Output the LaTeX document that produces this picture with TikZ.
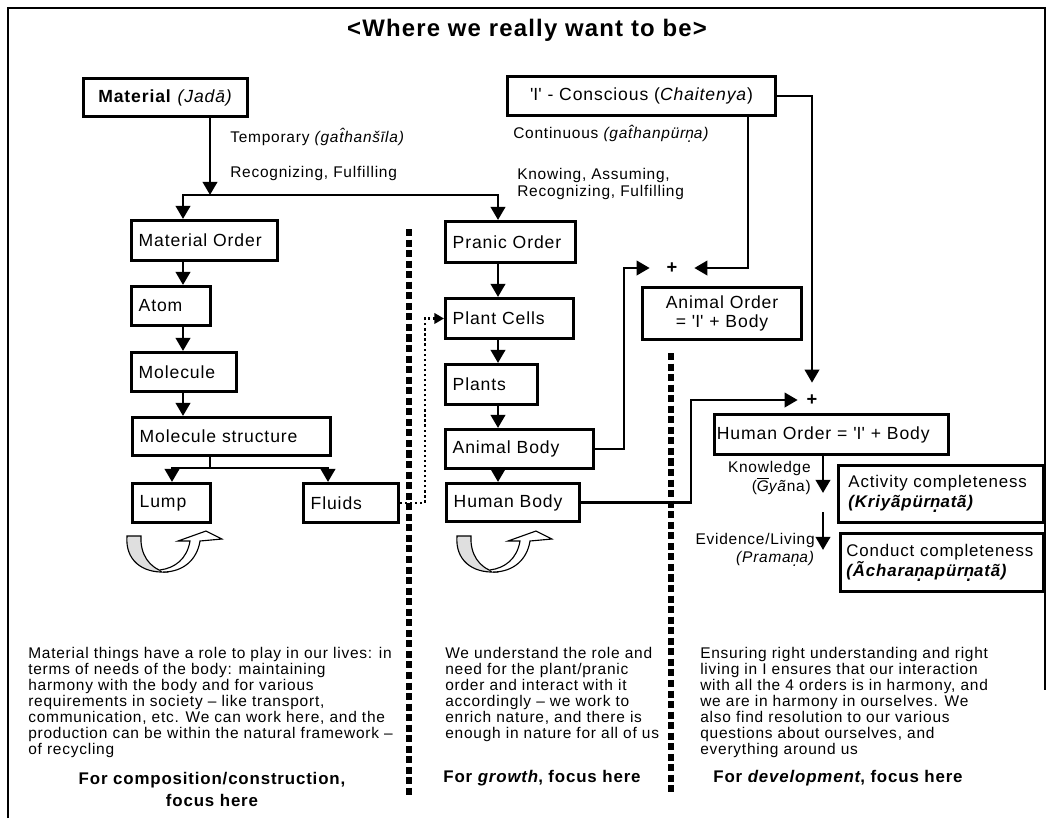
\documentclass[tikz,border=0pt]{standalone}
\usepackage{fontspec}
\setmainfont{Liberation Sans}[LetterSpace=5]
\usepackage{tikz}
\usetikzlibrary{arrows.meta, positioning, calc}

\newcommand{\ndot}[1]{\oalign{#1\crcr\hidewidth.\hidewidth}}
\newcommand{\qI}{\textquotesingle I\textquotesingle}

\begin{document}
\begin{tikzpicture}[
	x=0.025cm, y=-0.025cm,
	font=\fontsize{12.5}{14}\selectfont,
	box/.style={
		draw,
		rectangle,
		line width=2.1pt,
		anchor=north west,
		align=left,
		inner xsep=0.18cm,
		inner ysep=2pt
	},
	cbox/.style={box, align=center},
	lbl/.style={font=\fontsize{11}{12.5}\selectfont, inner sep=0pt},
	para/.style={font=\fontsize{11}{11.4}\selectfont, align=left, anchor=north west, inner sep=0pt},
	foot/.style={font=\bfseries\fontsize{12}{15.6}\selectfont, align=center, inner sep=0pt},
	plus/.style={inner sep=0pt, font=\bfseries\fontsize{13}{15}\selectfont},
	line/.style={line width=2.1pt},
	arrow/.style={line, -{Triangle[length=0.33cm, width=0.36cm]}},
	dotarrow/.style={line width=1.6pt, dotted, -{Triangle[length=0.24cm, width=0.26cm]}},
	sep/.style={line width=4pt, dash pattern=on 5pt off 2.5pt},
	recycle/.pic={
		\draw[line width=0.8pt, fill=gray!25] (0,4) .. controls (-2,28) and (15,41) .. (38,40)
			.. controls (22,36) and (13,22) .. (14,4) -- cycle;
		\draw[line width=0.8pt, fill=white] (36,40) .. controls (56,40) and (70,28) .. (73,9)
			-- (95,7) -- (79,-1) -- (51,9) -- (63,9) .. controls (60,27) and (48,36) .. (33,38);
	}
	]
	\useasboundingbox (0,0) rectangle (1052,818);
	
	% Marco y titulo
	\draw[line width=1.4pt] (8,818) -- (8,8) -- (1045,8) -- (1045,690);
	\node[font=\bfseries\fontsize{17}{19}\selectfont] (title) at (527,30) {<Where we really want to be>};
	
	% Fuentes
	\node[cbox, text width=3.74cm, minimum height=0.95cm] (mat) at (82,77) {\textbf{Material} \textit{(Jadā)}};
	\node[cbox, text width=6.34cm, minimum height=0.975cm] (con) at (506,75) {\qI{} - Conscious (\textit{Chaitenya})};
	
	\node[lbl, anchor=west] (temp) at (230,137) {Temporary \textit{(ga\^{t}hanšīla)}};
	\node[lbl, anchor=west] (recog) at (230,173) {Recognizing, Fulfilling};
	\node[lbl, anchor=west] (cont) at (513,134) {Continuous \textit{(ga\^{t}hanpür\ndot{n}a)}};
	\node[lbl, anchor=west, align=left] (knowing) at (517,184) {Knowing, Assuming,\\Recognizing, Fulfilling};
	
	% Columna material
	\node[box, text width=3.29cm, minimum height=1.0cm] (matord) at (130,219) {Material Order};
	\node[box, text width=1.615cm, minimum height=0.975cm] (atom) at (130,285) {Atom};
	\node[box, text width=2.265cm, minimum height=0.975cm] (molec) at (130,351) {Molecule};
	\node[box, text width=4.59cm, minimum height=0.95cm] (molstr) at (131,416) {Molecule structure};
	\node[box, text width=1.59cm, minimum height=0.975cm] (lump) at (131,482) {Lump};
	\node[box, text width=2.015cm, minimum height=0.975cm] (fluids) at (302,482) {Fluids};
	
	% Columna pranica
	\node[box, text width=2.89cm, minimum height=1.025cm] (pranic) at (444,220) {Pranic Order};
	\node[box, text width=2.84cm, minimum height=1.0cm] (pcells) at (444,297) {Plant Cells};
	\node[box, text width=1.94cm, minimum height=1.0cm] (plants) at (444,363) {Plants};
	\node[box, text width=3.34cm, minimum height=0.975cm] (abody) at (444,428) {Animal Body};
	\node[box, text width=2.965cm, minimum height=0.95cm] (hbody) at (445,482) {Human Body};
	
	% Columna animal / humana
	\node[plus, minimum width=1.1cm, minimum height=0.5cm] (plusA) at (672,268) {+};
	\node[cbox, text width=3.615cm, minimum height=1.3cm] (animord) at (641,286) {Animal Order\\= \qI{} + Body};
	\node[plus, minimum width=0.7cm, minimum height=0.85cm] (plusH) at (812,400) {+};
	\node[box, inner xsep=0.06cm, text width=5.73cm, minimum height=1.0cm] (humord) at (713,413) {Human Order = \qI{} + Body};
	\node[box, font=\fontsize{12}{14.5}\selectfont, inner xsep=0.25cm, text width=4.625cm, minimum height=1.425cm] (activ) at (837,464)
		{Activity completeness\\\textbf{\textit{(Kriyãpür\ndot{n}atã)}}};
	\node[box, font=\fontsize{12}{14.5}\selectfont, inner xsep=0.15cm, text width=4.775cm, minimum height=1.45cm] (conduct) at (839,532)
		{Conduct completeness\\\textbf{\textit{(Ãchara\ndot{n}apür\ndot{n}atã)}}};
	\node[lbl, anchor=east, align=right, font=\fontsize{11}{13}\selectfont] (gyana) at (811,478)
		{Knowledge\\($\overline{\mbox{\itshape G}}$\textit{yã}na)};
	\node[lbl, anchor=east, align=right, font=\fontsize{11}{12.5}\selectfont] (evid) at (815,550)
		{Evidence/Living\\\textit{(Prama\ndot{n}a)}};
	
	% Coordenadas de columnas
	\coordinate (lcol) at (183,0);
	\coordinate (pcol) at (498,0);
	\coordinate (icol) at (748,0);
	\coordinate (hcol) at (823,0);
	\coordinate (split) at (210,195);
	\coordinate (msplit) at (210,468);
	\coordinate (k1) at (823,493);
	\coordinate (k2) at (823,512);
	\coordinate (k3) at (823,550);
	
	% Flechas
	\draw[arrow] (split |- mat.south) -- (split);
	\draw[arrow] (split) -| (lcol |- matord.north);
	\draw[arrow] (split) -| (pcol |- pranic.north);
	\foreach \a/\b in {matord/atom, atom/molec, molec/molstr}
		\draw[arrow] (lcol |- \a.south) -- (lcol |- \b.north);
	\draw[line] (msplit |- molstr.south) -- (msplit);
	\draw[arrow] (msplit) -| ($(lump.north west)+(41,0)$);
	\draw[arrow] (msplit) -| ($(fluids.north west)+(26,0)$);
	\foreach \a/\b in {pranic/pcells, pcells/plants, plants/abody, abody/hbody}
		\draw[arrow] (pcol |- \a.south) -- (pcol |- \b.north);
	\draw[dotarrow] (fluids.east) -- ++(25,0) |- (pcells.west);
	
	\draw[arrow] (abody.east) -- ++(29,0) |- (plusA.west);
	\draw[arrow] (icol |- con.south) |- (plusA.east);
	\draw[arrow] (con.east) -| (plusH.north);
	\draw[arrow] (hbody.east) -- ++(110,0) |- (plusH.west);
	\draw[arrow] (hcol |- humord.south) -- (k1);
	\draw[arrow] (k2) -- (k3);
	
	% Separadores
	\draw[sep] (409,229) -- (409,795);
	\draw[sep] (671,353) -- (671,795);
	
	% Reciclaje
	\pic at (127,532) {recycle};
	\pic at (457,532) {recycle};
	
	% Textos inferiores
	\node[para] (ptxt1) at (28,647) {Material things have a role to play in our lives: in\\
		terms of needs of the body: maintaining\\
		harmony with the body and for various\\
		requirements in society -- like transport,\\
		communication, etc. We can work here, and the\\
		production can be within the natural framework --\\
		of recycling};
	\node[para] (ptxt2) at (445,647) {We understand the role and\\
		need for the plant/pranic\\
		order and interact with it\\
		accordingly -- we work to\\
		enrich nature, and there is\\
		enough in nature for all of us};
	\node[para] (ptxt3) at (700,647) {Ensuring right understanding and right\\
		living in I ensures that our interaction\\
		with all the 4 orders is in harmony, and\\
		we are in harmony in ourselves. We\\
		also find resolution to our various\\
		questions about ourselves, and\\
		everything around us};
	
	\node[foot] (foot1) at (212,789) {For composition/construction,\\focus here};
	\node[foot] (foot2) at (542,778) {For \textit{growth}, focus here};
	\node[foot] (foot3) at (838,778) {For \textit{development}, focus here};
	
\end{tikzpicture}
\end{document}
